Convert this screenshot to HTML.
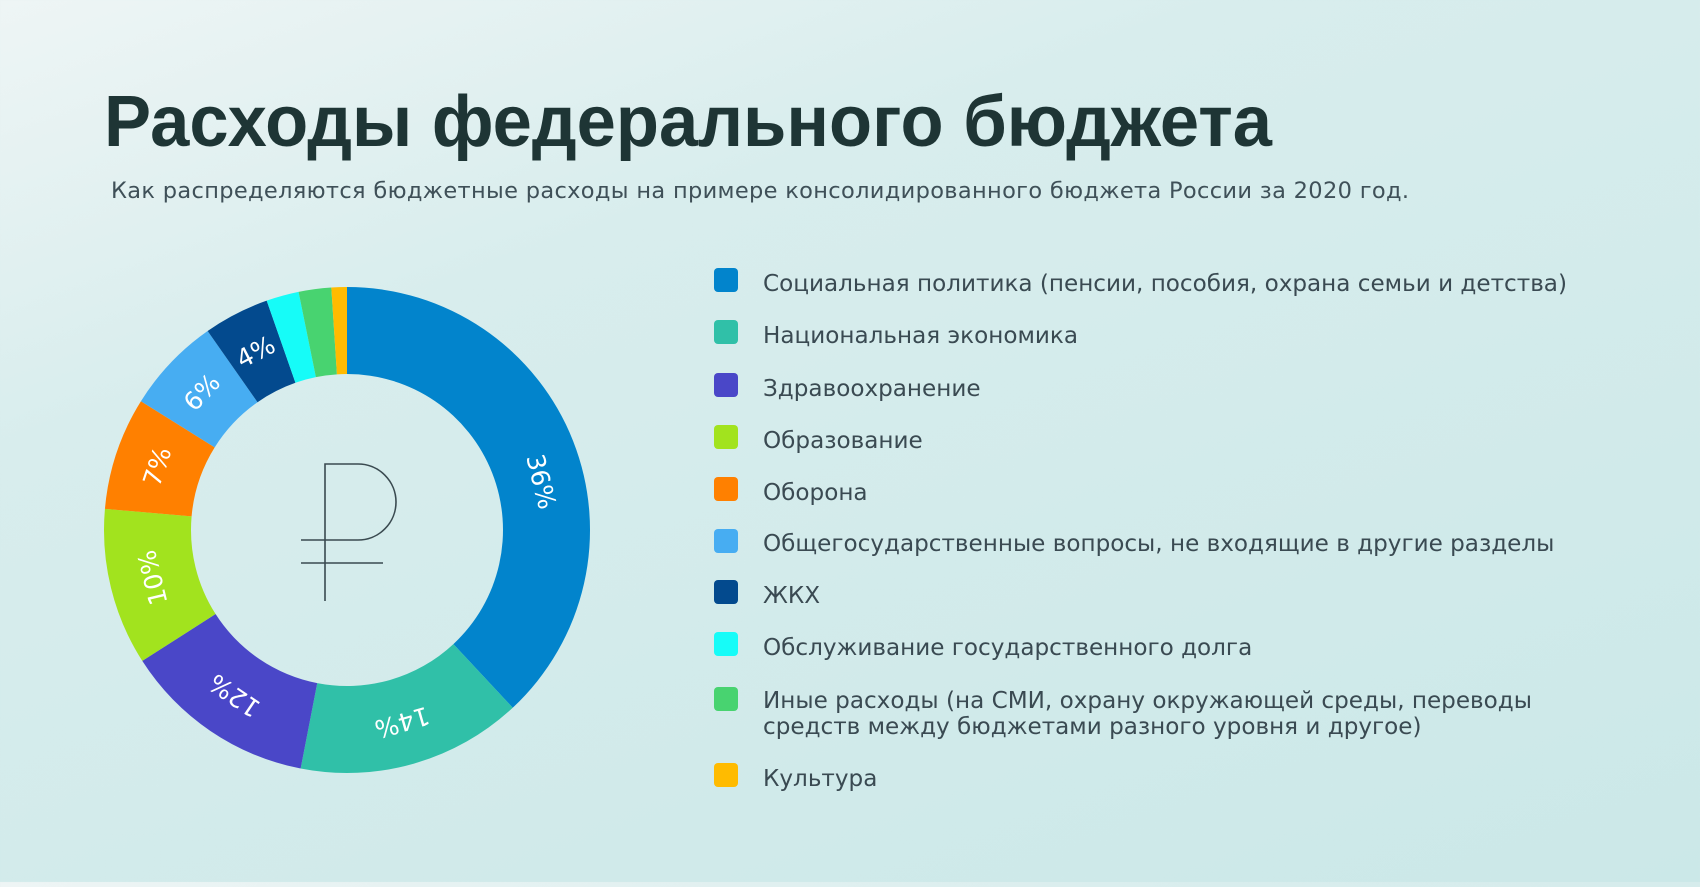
<!DOCTYPE html>
<html><head><meta charset="utf-8"><style>
body{margin:0;width:1700px;height:882px;overflow:hidden;background:linear-gradient(160deg,#eef5f5 0%,#d8eded 30%,#cbe8e8 100%);}
</style></head><body>
<svg width="1700" height="882" xmlns="http://www.w3.org/2000/svg">
<text x="104" y="146" font-family="Liberation Sans, sans-serif" font-weight="bold" font-size="72" fill="#1e3535" textLength="1168" lengthAdjust="spacingAndGlyphs">Расходы федерального бюджета</text>
<text x="111" y="198" font-family="DejaVu Sans, sans-serif" font-size="22.5" fill="#3f5058" textLength="1298">Как распределяются бюджетные расходы на примере консолидированного бюджета России за 2020 год.</text>
<g id="donut" transform="translate(347,530)"></g>
<g stroke="#3a4a50" stroke-width="1.6" fill="none">
<path d="M325 601 V464 H358 A36 36 0 0 1 358 540 H301"/>
<path d="M301 563 H383"/>
</g>
<g font-family="DejaVu Sans, sans-serif" font-size="23.1" fill="#3a4a52">
<rect x="714" y="268" width="24" height="24" rx="4" fill="#0284cc"/><text x="763" y="291">Социальная политика (пенсии, пособия, охрана семьи и детства)</text>
<rect x="714" y="320" width="24" height="24" rx="4" fill="#30c0a8"/><text x="763" y="343">Национальная экономика</text>
<rect x="714" y="373" width="24" height="24" rx="4" fill="#4a47c8"/><text x="763" y="396">Здравоохранение</text>
<rect x="714" y="425" width="24" height="24" rx="4" fill="#a2e31e"/><text x="763" y="448">Образование</text>
<rect x="714" y="477" width="24" height="24" rx="4" fill="#ff8000"/><text x="763" y="500">Оборона</text>
<rect x="714" y="529" width="24" height="24" rx="4" fill="#47adf2"/><text x="763" y="551">Общегосударственные вопросы, не входящие в другие разделы</text>
<rect x="714" y="580" width="24" height="24" rx="4" fill="#034a8e"/><text x="763" y="603">ЖКХ</text>
<rect x="714" y="632" width="24" height="24" rx="4" fill="#16fcf8"/><text x="763" y="655">Обслуживание государственного долга</text>
<rect x="714" y="687" width="24" height="24" rx="4" fill="#48d370"/><text x="763" y="708">Иные расходы (на СМИ, охрану окружающей среды, переводы</text><text x="763" y="734">средств между бюджетами разного уровня и другое)</text>
<rect x="714" y="763" width="24" height="24" rx="4" fill="#ffbb00"/><text x="763" y="786">Культура</text>
</g>
</svg>
<script>
var segs=[[0,137,"#0284cc","36%",76,76],[137,191,"#30c0a8","14%"],[191,237.4,"#4a47c8","12%"],[237.4,275,"#a2e31e","10%"],[275,302,"#ff8000","7%"],[302,325,"#47adf2","6%"],[325,340.7,"#034a8e","4%"],[340.7,348.5,"#16fcf8",""],[348.5,356.3,"#48d370",""],[356.3,360,"#ffbb00",""]];
var R=243,r=156,g=document.getElementById("donut"),h="";
function pt(a,rad){a=a*Math.PI/180;return [rad*Math.sin(a),-rad*Math.cos(a)];}
segs.forEach(function(s){var a=pt(s[0],R),b=pt(s[1],R),c=pt(s[1],r),d=pt(s[0],r),l=(s[1]-s[0])>180?1:0;
h+='<path fill="'+s[2]+'" d="M'+a+' A'+R+' '+R+' 0 '+l+' 1 '+b+' L'+c+' A'+r+' '+r+' 0 '+l+' 0 '+d+'Z"/>';
if(s[3]){var m=(s[0]+s[1])/2,pa=s[4]||m,ro=s[5]||m,p=pt(pa,200);h+='<text x="'+p[0]+'" y="'+p[1]+'" transform="rotate('+ro+' '+p[0]+' '+p[1]+')" text-anchor="middle" dominant-baseline="central" fill="#fff" font-family="DejaVu Sans, sans-serif" font-size="25">'+s[3]+'</text>';}});
g.innerHTML=h;
</script>
</body></html>
